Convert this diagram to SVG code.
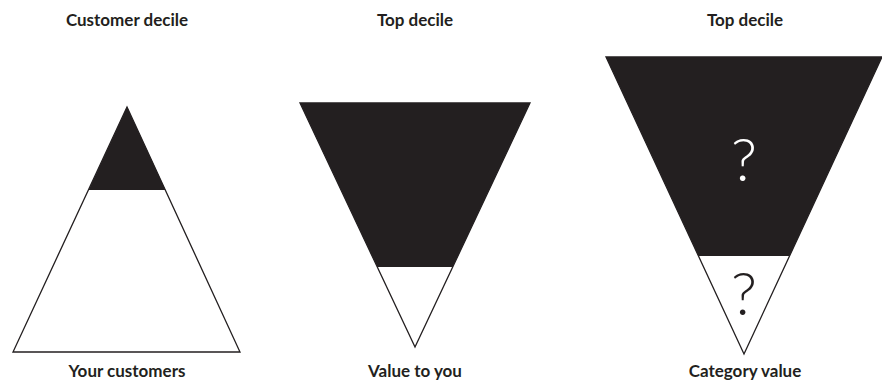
<svg xmlns="http://www.w3.org/2000/svg" width="882" height="385" viewBox="0 0 882 385">
<style>
.lbl{font-family:Lato,"Open Sans","Liberation Sans",sans-serif;font-weight:bold;font-size:17px;fill:#231f20;text-anchor:middle}
.q{font-family:Lato,"Open Sans","Liberation Sans",sans-serif;font-weight:300;font-size:60px;text-anchor:middle}
.out{fill:#fff;stroke:#231f20;stroke-width:1.3;stroke-linejoin:miter}
.dark{fill:#231f20}
</style>
<rect width="882" height="385" fill="#fff"/>
<g id="customers">
<polygon class="out" points="127,107 240,352 13,352"/>
<polygon class="dark" points="127,107 165.5,190 88.5,190"/>
<text class="lbl" x="127" y="26">Customer decile</text>
<text class="lbl" x="127" y="377">Your customers</text>
</g>
<g id="value-to-you">
<polygon class="out" points="300,103 530,103 415,347"/>
<polygon class="dark" points="300,103 530,103 452.7,267 377.3,267"/>
<text class="lbl" x="415" y="26">Top decile</text>
<text class="lbl" x="415" y="377">Value to you</text>
</g>
<g id="category-value">
<polygon class="out" points="606,57 882,57 744,354"/>
<polygon class="dark" points="606,57 882,57 789.5,256 698.5,256"/>
<text class="q" x="744" y="181" fill="#fff">?</text>
<text class="q" x="744" y="315" fill="#231f20">?</text>
<text class="lbl" x="745" y="26">Top decile</text>
<text class="lbl" x="745" y="377">Category value</text>
</g>
<g id="connectors"></g>
</svg>
